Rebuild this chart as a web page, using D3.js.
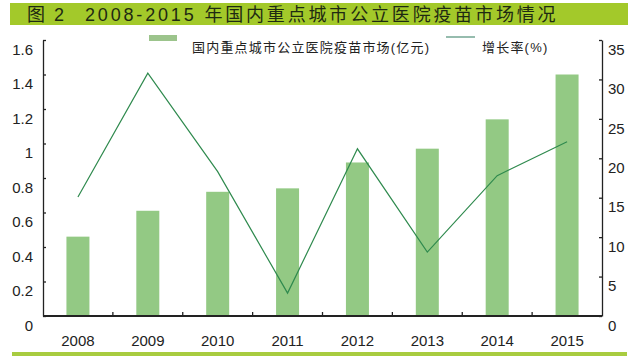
<!DOCTYPE html>
<html lang="zh">
<head>
<meta charset="UTF-8">
<title>2008-2015 疫苗市场</title>
<script src="https://d3js.org/d3.v7.min.js"></script>
<style>
    body { margin: 0; background: #fff; }
    svg text { font-family: "Liberation Sans", Arial, "Noto Sans CJK SC", sans-serif; }
</style>
</head>
<body>
<svg width="640" height="362"></svg>
<script>
    var years = ["2008", "2009", "2010", "2011", "2012", "2013", "2014", "2015"];
    var market = [0.46, 0.61, 0.72, 0.74, 0.89, 0.97, 1.14, 1.40];   // 亿元
    var growth = [15.1, 30.8, 18.3, 2.9, 21.2, 8.1, 17.8, 22.1];     // %
    var leftTicks = [0, 0.2, 0.4, 0.6, 0.8, 1, 1.2, 1.4, 1.6];
    var rightTicks = [0, 5, 10, 15, 20, 25, 30, 35];

    var svg = d3.select("svg");
    var plotLeft = 43, plotRight = 602, plotTop = 40, plotBottom = 316;

    var x = d3.scaleBand().domain(years).range([plotLeft, plotRight]).padding(0);
    var yL = d3.scaleLinear().domain([0, 1.6]).range([plotBottom, plotTop]);
    var yR = d3.scaleLinear().domain([0, 35]).range([plotBottom, plotTop]);
    var barW = 23;

    // title bar
    svg.append("rect").attr("x", 10).attr("y", 3).attr("width", 618).attr("height", 22)
        .attr("fill", "#a3c92a");
    svg.append("text").attr("x", 27).attr("y", 21).attr("font-size", 18)
        .attr("letter-spacing", 2).attr("fill", "#1e2a12").text("图 2");
    svg.append("text").attr("x", 85).attr("y", 21).attr("font-size", 18)
        .attr("letter-spacing", 2.4).attr("fill", "#1e2a12")
        .text("2008-2015 年国内重点城市公立医院疫苗市场情况")
        .attr("textLength", 473).attr("lengthAdjust", "spacing");

    // bottom rule
    svg.append("rect").attr("x", 12).attr("y", 352).attr("width", 615).attr("height", 4)
        .attr("fill", "#a8cc40");

    // bars
    svg.selectAll(".bar")
        .data(years)
        .enter().append("rect")
        .attr("class", "bar")
        .attr("x", function (d) { return x(d) + (x.bandwidth() - barW) / 2; })
        .attr("y", function (d, i) { return yL(market[i]); })
        .attr("width", barW)
        .attr("height", function (d, i) { return plotBottom - yL(market[i]); })
        .attr("fill", "#93c984");

    // growth line
    var line = d3.line()
        .x(function (d, i) { return x(years[i]) + x.bandwidth() / 2; })
        .y(function (d) { return yR(d); });
    svg.append("path").datum(growth)
        .attr("d", line)
        .attr("fill", "none")
        .attr("stroke", "#2f8a4e")
        .attr("stroke-width", 1.2);

    // left axis
    var gL = svg.append("g").attr("transform", "translate(" + plotLeft + ",0)")
        .call(d3.axisLeft(yL).tickValues(leftTicks).tickSizeInner(-3).tickSizeOuter(0).tickPadding(10)
            .tickFormat(function (d) { return d; }));
    gL.selectAll("text").attr("dy", "0.95em").attr("font-size", 15).attr("fill", "#222");

    // right axis
    var gR = svg.append("g").attr("transform", "translate(" + plotRight + ",0)")
        .call(d3.axisRight(yR).tickValues(rightTicks).tickSizeInner(-3).tickSizeOuter(0).tickPadding(6));
    gR.selectAll("text").attr("dy", "0.95em").attr("font-size", 15).attr("fill", "#222");

    svg.selectAll(".domain").attr("stroke", "#222").attr("stroke-width", 1.3);
    svg.selectAll(".tick line").attr("stroke", "#222").attr("stroke-width", 1.3);

    // bottom axis: baseline, inner ticks at band boundaries, year labels
    svg.append("line").attr("x1", plotLeft).attr("x2", plotRight).attr("y1", plotBottom).attr("y2", plotBottom)
        .attr("stroke", "#222").attr("stroke-width", 2);
    svg.selectAll(".xtick")
        .data(years.slice(1))
        .enter().append("line")
        .attr("x1", function (d) { return x(d); })
        .attr("x2", function (d) { return x(d); })
        .attr("y1", plotBottom).attr("y2", plotBottom - 4)
        .attr("stroke", "#222").attr("stroke-width", 1.3);
    svg.selectAll(".xlabel")
        .data(years)
        .enter().append("text")
        .attr("x", function (d) { return x(d) + x.bandwidth() / 2; })
        .attr("y", plotBottom + 30)
        .attr("text-anchor", "middle")
        .attr("font-size", 15)
        .attr("fill", "#222")
        .text(function (d) { return d; });

    // legend
    svg.append("rect").attr("x", 149).attr("y", 35).attr("width", 28).attr("height", 6)
        .attr("fill", "#9cc48c");
    svg.append("text").attr("x", 192).attr("y", 52).attr("font-size", 13)
        .attr("letter-spacing", 1.2).attr("fill", "#222")
        .text("国内重点城市公立医院疫苗市场(亿元)");
    svg.append("line").attr("x1", 446).attr("x2", 475).attr("y1", 37).attr("y2", 37)
        .attr("stroke", "#4f8f78").attr("stroke-width", 1.2);
    svg.append("text").attr("x", 482).attr("y", 52).attr("font-size", 13)
        .attr("letter-spacing", 1.2).attr("fill", "#222")
        .text("增长率(%)");
</script>
</body>
</html>
